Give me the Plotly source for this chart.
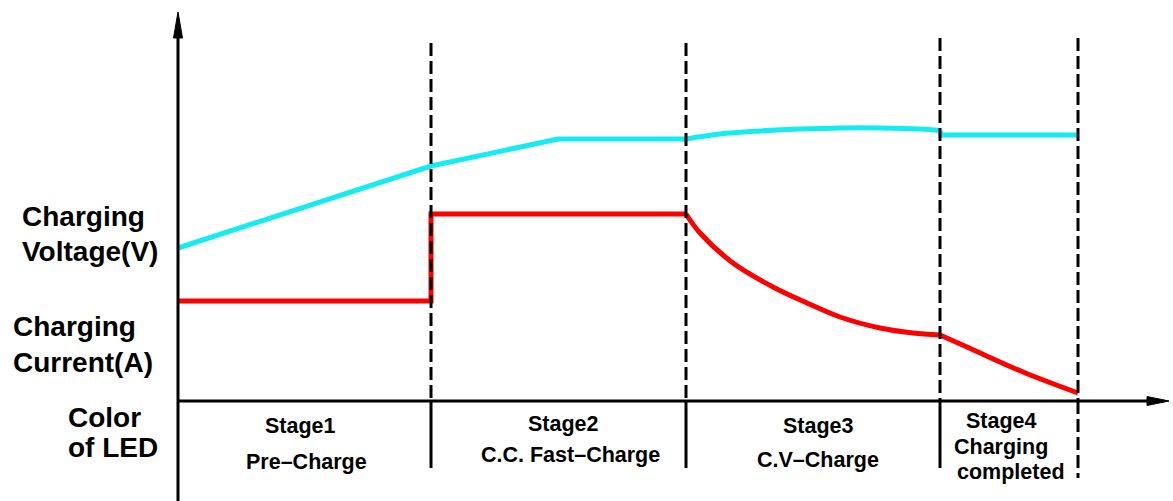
import plotly.graph_objects as go

# ---- data (time in arbitrary units, values in arbitrary units) ----
stage_bounds = [25.3, 50.8, 76.2, 90.0]

volt_t = [0.0, 25.3, 38.0, 50.8, 54.2, 58.2, 62.2, 66.2, 70.2, 74.2, 76.2, 76.3, 90.0]
volt_v = [15.3, 23.5, 26.2, 26.2, 26.7, 27.0, 27.2, 27.3, 27.3, 27.2, 27.05, 26.6, 26.6]

curr_t = [0.0, 25.3, 25.3, 50.8, 52.2, 55.5, 59.5, 62.9, 66.2, 70.2, 73.5, 76.2, 78.9, 84.5, 90.0]
curr_v = [10.0, 10.0, 18.7, 18.7, 16.8, 13.8, 11.4, 9.8, 8.4, 7.3, 6.8, 6.6, 5.4, 2.9, 0.8]

left_labels = ["Charging", "Voltage(V)", "Charging", "Current(A)", "Color", "of LED"]
stage_labels = [
    ["Stage1", "Pre\u2013Charge"],
    ["Stage2", "C.C. Fast\u2013Charge"],
    ["Stage3", "C.V\u2013Charge"],
    ["Stage4", "Charging", "completed"],
]

# ---- scale helpers (1 unit = 10 px) ----
X0 = -17.8
Y0 = 40.1
def px_x(p):
    return X0 + p / 10.0
def px_y(p):
    return Y0 - p / 10.0

FONT = "Liberation Sans"
CYAN = "#14ECF2"
RED = "#FF0000"
fig = go.Figure()

def seg(t, v, a, b, color, width, shape):
    fig.add_trace(go.Scatter(x=t[a:b + 1], y=v[a:b + 1], mode="lines",
                             line=dict(color=color, width=width, shape=shape,
                                       smoothing=1.0 if shape == "spline" else None),
                             hoverinfo="skip"))

seg(volt_t, volt_v, 0, 3, CYAN, 5, "linear")
seg(volt_t, volt_v, 3, 10, CYAN, 5, "spline")
seg(volt_t, volt_v, 10, 12, CYAN, 5, "linear")
seg(curr_t, curr_v, 0, 3, RED, 5, "linear")
seg(curr_t, curr_v, 3, 11, RED, 5, "spline")
seg(curr_t, curr_v, 11, 14, RED, 5, "spline")

shapes = []
# axes
shapes.append(dict(type="line", x0=0, x1=0, y0=px_y(501), y1=px_y(30), xref="x", yref="y",
                   line=dict(color="black", width=3), layer="above"))
shapes.append(dict(type="line", x0=0, x1=px_x(1150), y0=0, y1=0, xref="x", yref="y",
                   line=dict(color="black", width=3), layer="above"))
# arrowheads
shapes.append(dict(type="path", xref="x", yref="y",
                   path=f"M {-0.45},{px_y(38)} L 0,{px_y(12)} L {0.45},{px_y(38)} Z",
                   fillcolor="black", line=dict(color="black", width=1), layer="above"))
shapes.append(dict(type="path", xref="x", yref="y",
                   path=f"M {px_x(1147)},{0.45} L {px_x(1169)},0 L {px_x(1147)},{-0.45} Z",
                   fillcolor="black", line=dict(color="black", width=1), layer="above"))

tops = [43, 43, 38, 38]
for i, b in enumerate(stage_bounds):
    shapes.append(dict(type="line", x0=b, x1=b, y0=px_y(tops[i]), y1=0, xref="x", yref="y",
                       line=dict(color="black", width=3, dash="13px,5px"), layer="above"))
    if i < 3:
        shapes.append(dict(type="line", x0=b, x1=b, y0=0, y1=px_y(468), xref="x", yref="y",
                           line=dict(color="black", width=3), layer="above"))
    else:
        shapes.append(dict(type="line", x0=b, x1=b, y0=0, y1=px_y(478), xref="x", yref="y",
                           line=dict(color="black", width=3, dash="13px,5px"), layer="above"))

ann = []
def text(s, x, y, size, anchor="left"):
    ann.append(dict(text=s, x=px_x(x), y=px_y(y), xref="x", yref="y", showarrow=False,
                    xanchor=anchor, yanchor="middle",
                    font=dict(family=FONT, size=size, color="black", weight="bold")))

L = 28
text(left_labels[0], 20, 216, L)
text(left_labels[1], 20, 251, L)
text(left_labels[2], 11, 326, L)
text(left_labels[3], 11, 362, L)
text(left_labels[4], 66, 417, L)
text(left_labels[5], 66, 447, L)

S = 21.5
text(stage_labels[0][0], 300, 426, S, "center")
text(stage_labels[0][1], 306, 462, S, "center")
text(stage_labels[1][0], 563, 424, S, "center")
text(stage_labels[1][1], 570, 455, S, "center")
text(stage_labels[2][0], 818, 426, S, "center")
text(stage_labels[2][1], 818, 460, S, "center")
text(stage_labels[3][0], 1001, 421, S, "center")
text(stage_labels[3][1], 1001, 447, S, "center")
text(stage_labels[3][2], 1011, 472, S, "center")

fig.update_layout(
    width=1173, height=501, autosize=False,
    margin=dict(l=0, r=0, t=0, b=0),
    paper_bgcolor="white", plot_bgcolor="white",
    showlegend=False,
    xaxis=dict(range=[px_x(0), px_x(1173)], visible=False, fixedrange=True),
    yaxis=dict(range=[px_y(501), px_y(0)], visible=False, fixedrange=True),
    shapes=shapes, annotations=ann,
)

fig.write_html("out.html", post_script="document.body.style.margin='0';",
               config={"displayModeBar": False})
